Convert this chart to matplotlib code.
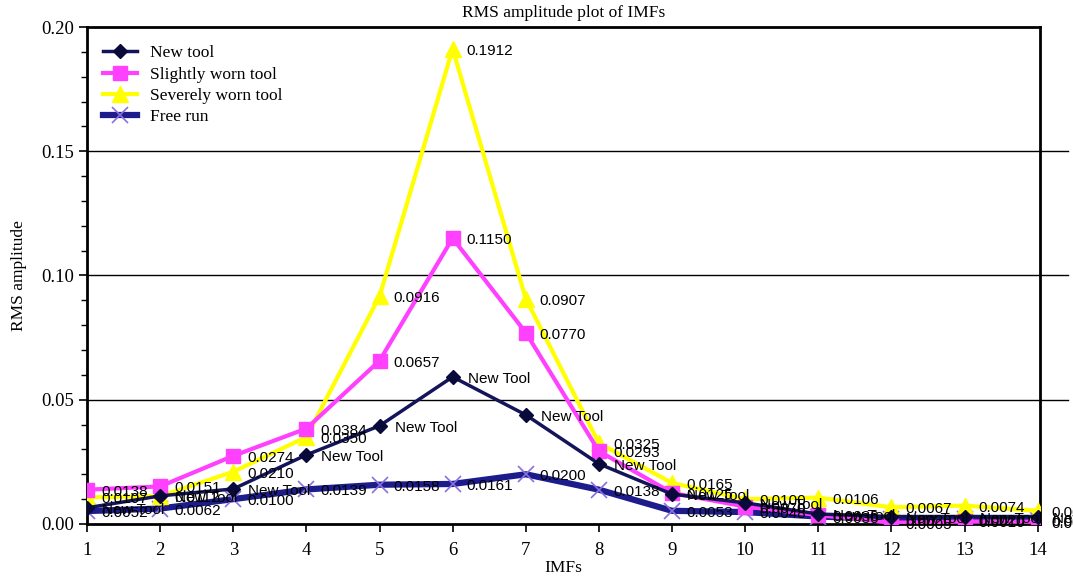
import matplotlib.pyplot as plt
import numpy as np

imfs = np.arange(1, 15)

new_tool = [0.0065, 0.0113, 0.0141, 0.0278, 0.0395, 0.0592, 0.0439,
            0.0242, 0.0120, 0.0085, 0.0040, 0.0030, 0.0030, 0.0030]
slightly_worn = [0.0138, 0.0151, 0.0274, 0.0384, 0.0657, 0.1150, 0.0770,
                 0.0293, 0.0125, 0.0070, 0.0036, 0.0005, 0.0010, 0.0009]
severely_worn = [0.0107, 0.0112, 0.0210, 0.0350, 0.0916, 0.1912, 0.0907,
                 0.0325, 0.0165, 0.0100, 0.0106, 0.0067, 0.0074, 0.0053]
free_run = [0.0052, 0.0062, 0.0100, 0.0139, 0.0158, 0.0161, 0.0200,
            0.0138, 0.0053, 0.0048, 0.0030, 0.0020, 0.0020, 0.0015]

serif = 'Liberation Serif'
sans = 'Liberation Sans'

fig = plt.figure(figsize=(10.73, 5.77), dpi=100)
ax = fig.add_axes([0.0811, 0.0919, 0.888, 0.8613])

ax.plot(imfs, free_run, color='#1c1c8c', lw=4.5, marker='x', ms=11,
        mec='#8a6fe0', mew=1.2, label='Free run', zorder=3)
ax.plot(imfs, severely_worn, color='#ffff00', lw=3, marker='^', ms=11,
        mec='#ffff00', label='Severely worn tool', zorder=4)
ax.plot(imfs, slightly_worn, color='#ff40ff', lw=3, marker='s', ms=10,
        mec='#ff40ff', label='Slightly worn tool', zorder=5)
ax.plot(imfs, new_tool, color='#14145a', lw=2.5, marker='D', ms=7,
        mfc='#0a0a3a', mec='#0a0a3a', label='New tool', zorder=6)

for x, v in zip(imfs, free_run):
    ax.annotate('%.4f' % v, (x, v), xytext=(14, -2), textcoords='offset pixels',
                va='center', fontsize=11, family=sans, zorder=7)
for x, v in zip(imfs, severely_worn):
    ax.annotate('%.4f' % v, (x, v), xytext=(14, -2), textcoords='offset pixels',
                va='center', fontsize=11, family=sans, zorder=7)
for x, v in zip(imfs, slightly_worn):
    ax.annotate('%.4f' % v, (x, v), xytext=(14, -2), textcoords='offset pixels',
                va='center', fontsize=11, family=sans, zorder=7)
for x, v in zip(imfs, new_tool):
    ax.annotate('New Tool', (x, v), xytext=(15, -2), textcoords='offset pixels',
                va='center', fontsize=11, family=sans, zorder=7)

# grid lines run a bit past the right frame
for g in [0.05, 0.10, 0.15]:
    ax.axhline(g, xmin=0, xmax=1.03, color='black', lw=1, clip_on=False, zorder=1)

ax.set_xlim(1, 14.03)
ax.set_ylim(0, 0.2)
ax.set_xticks(imfs)
ax.set_yticks([0, 0.05, 0.10, 0.15, 0.20])
ax.set_yticklabels(['0.00', '0.05', '0.10', '0.15', '0.20'])
ax.set_yticks(np.arange(0, 0.2, 0.01), minor=True)
ax.tick_params(axis='both', direction='out', length=6, width=1.2, labelsize=13.5)
ax.tick_params(axis='x', pad=7)
ax.tick_params(axis='y', which='minor', direction='out', length=4, width=1)
for lab in ax.get_xticklabels() + ax.get_yticklabels():
    lab.set_family(serif)

for s in ax.spines.values():
    s.set_linewidth(2)

ax.set_title('RMS amplitude plot of IMFs', family=serif, fontsize=12.5, pad=7)
ax.set_xlabel('IMFs', family=serif, fontsize=12.5, labelpad=1)
ax.set_ylabel('RMS amplitude', family=serif, fontsize=12.5, labelpad=10)

h, l = ax.get_legend_handles_labels()
order = [3, 2, 1, 0]
ax.legend([h[i] for i in order], [l[i] for i in order], loc='upper left',
          bbox_to_anchor=(0.0, 0.995), frameon=False, handlelength=2.0,
          handletextpad=0.7, labelspacing=0.3, prop={'family': serif, 'size': 12.5})

fig.savefig('out.png', dpi=100)
